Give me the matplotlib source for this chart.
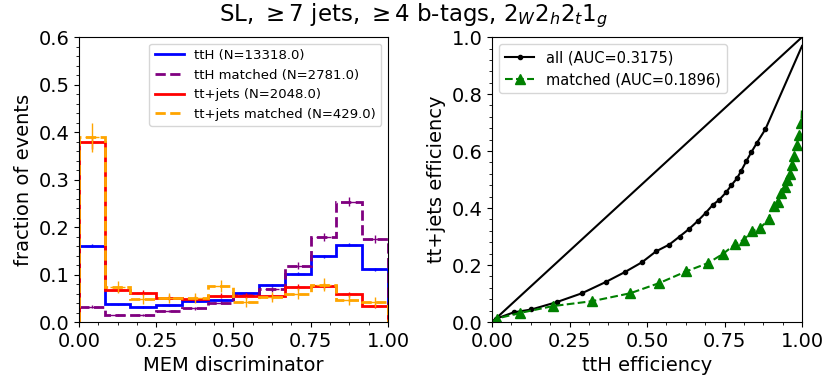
import numpy as np
import matplotlib
matplotlib.use("Agg")
import matplotlib.pyplot as plt
from matplotlib.lines import Line2D
from matplotlib.ticker import AutoMinorLocator

# MEM discriminator histograms (fraction of events per bin, 12 bins on [0, 1])
bin_edges = np.linspace(0.0, 1.0, 13)
tth_all = [0.161, 0.037, 0.032, 0.035, 0.044, 0.047, 0.062, 0.077, 0.102, 0.138, 0.163, 0.111]
tth_matched = [0.032, 0.015, 0.015, 0.023, 0.029, 0.041, 0.056, 0.069, 0.119, 0.179, 0.253, 0.175]
ttjets_all = [0.379, 0.068, 0.062, 0.051, 0.049, 0.055, 0.055, 0.054, 0.074, 0.076, 0.058, 0.033]
ttjets_matched = [0.389, 0.074, 0.048, 0.051, 0.051, 0.076, 0.042, 0.053, 0.060, 0.079, 0.046, 0.042]
n_events = [13318.0, 2781.0, 2048.0, 429.0]
series_names = ["ttH", "ttH matched", "tt+jets", "tt+jets matched"]

# ROC curves: ttH efficiency vs tt+jets efficiency
roc_all_x = [0.0, 0.014, 0.070, 0.127, 0.209, 0.290, 0.366, 0.428, 0.484, 0.529, 0.572,
             0.605, 0.636, 0.664, 0.690, 0.712, 0.733, 0.755, 0.772, 0.790, 0.804,
             0.820, 0.836, 0.855, 0.882, 1.0]
roc_all_y = [0.0, 0.012, 0.034, 0.044, 0.070, 0.101, 0.140, 0.175, 0.210, 0.248, 0.272,
             0.300, 0.327, 0.355, 0.384, 0.411, 0.429, 0.455, 0.480, 0.504, 0.531,
             0.564, 0.595, 0.630, 0.677, 0.969]
roc_matched_x = [0.0, 0.015, 0.091, 0.197, 0.322, 0.446, 0.540, 0.627, 0.697, 0.745, 0.785,
                 0.812, 0.839, 0.866, 0.892, 0.908, 0.921, 0.933, 0.944, 0.953, 0.962,
                 0.968, 0.975, 0.984, 0.991, 0.998, 1.0]
roc_matched_y = [0.0, 0.012, 0.032, 0.056, 0.073, 0.101, 0.137, 0.178, 0.207, 0.239, 0.274,
                 0.289, 0.320, 0.330, 0.362, 0.406, 0.421, 0.452, 0.473, 0.497, 0.519,
                 0.550, 0.582, 0.622, 0.656, 0.700, 0.753]
auc_all = 0.3175
auc_matched = 0.1896

fig = plt.figure(figsize=(8.27, 3.85), dpi=100)
ax1 = fig.add_axes([0.0955, 0.1636, 0.3736, 0.740])
ax2 = fig.add_axes([0.595, 0.1636, 0.3748, 0.740])

centers = 0.5 * (bin_edges[:-1] + bin_edges[1:])
width = bin_edges[1] - bin_edges[0]
styles = [("blue", "-"), ("purple", "--"), ("red", "-"), ("orange", "--")]
hists = [tth_all, tth_matched, ttjets_all, ttjets_matched]
handles = []
for vals, n, name, (col, ls) in zip(hists, n_events, series_names, styles):
    vals = np.asarray(vals)
    ax1.hist(centers, bins=bin_edges, weights=vals, histtype="step", color=col,
             linestyle=ls, linewidth=2)
    err = np.sqrt(vals / n)
    ax1.errorbar(centers, vals, yerr=err, xerr=0.28 * width, fmt="none",
                 ecolor=col, elinewidth=1)
    handles.append(Line2D([], [], color=col, linestyle=ls, linewidth=2,
                          label=f"{name} (N={n})"))

ax1.set_xlim(0, 1)
ax1.set_ylim(0, 0.6)
ax1.set_xticks([0, 0.25, 0.5, 0.75, 1.0])
ax1.set_xlabel("MEM discriminator", fontsize=14)
ax1.set_ylabel("fraction of events", fontsize=14)
ax1.legend(handles=handles, loc="upper right", fontsize=9.5, handlelength=2.2)

ax2.plot([0, 1], [0, 1], color="black", linewidth=1.5)
ax2.plot(roc_all_x, roc_all_y, color="black", linestyle="-", marker="o", markersize=3,
         linewidth=1.5, markevery=slice(1, -1), label=f"all (AUC={auc_all})")
ax2.plot(roc_matched_x, roc_matched_y, color="green", linestyle="--", marker="^",
         markersize=7, linewidth=1.5, markevery=slice(1, -1),
         label=f"matched (AUC={auc_matched})")
ax2.set_xlim(0, 1)
ax2.set_ylim(0, 1)
ax2.set_xticks([0, 0.25, 0.5, 0.75, 1.0])
ax2.set_xlabel("ttH efficiency", fontsize=14)
ax2.set_ylabel("tt+jets efficiency", fontsize=14)
ax2.legend(loc="upper left", fontsize=10.5)

for ax in (ax1, ax2):
    ax.xaxis.set_minor_locator(AutoMinorLocator(4))
    ax.yaxis.set_minor_locator(AutoMinorLocator(5))
    ax.tick_params(axis="both", which="major", labelsize=14)

fig.suptitle(r"SL, $\geq 7$ jets, $\geq 4$ b-tags, $2_W 2_h 2_t 1_g$", fontsize=16.5, y=0.995)

fig.savefig("out.png", dpi=100)
